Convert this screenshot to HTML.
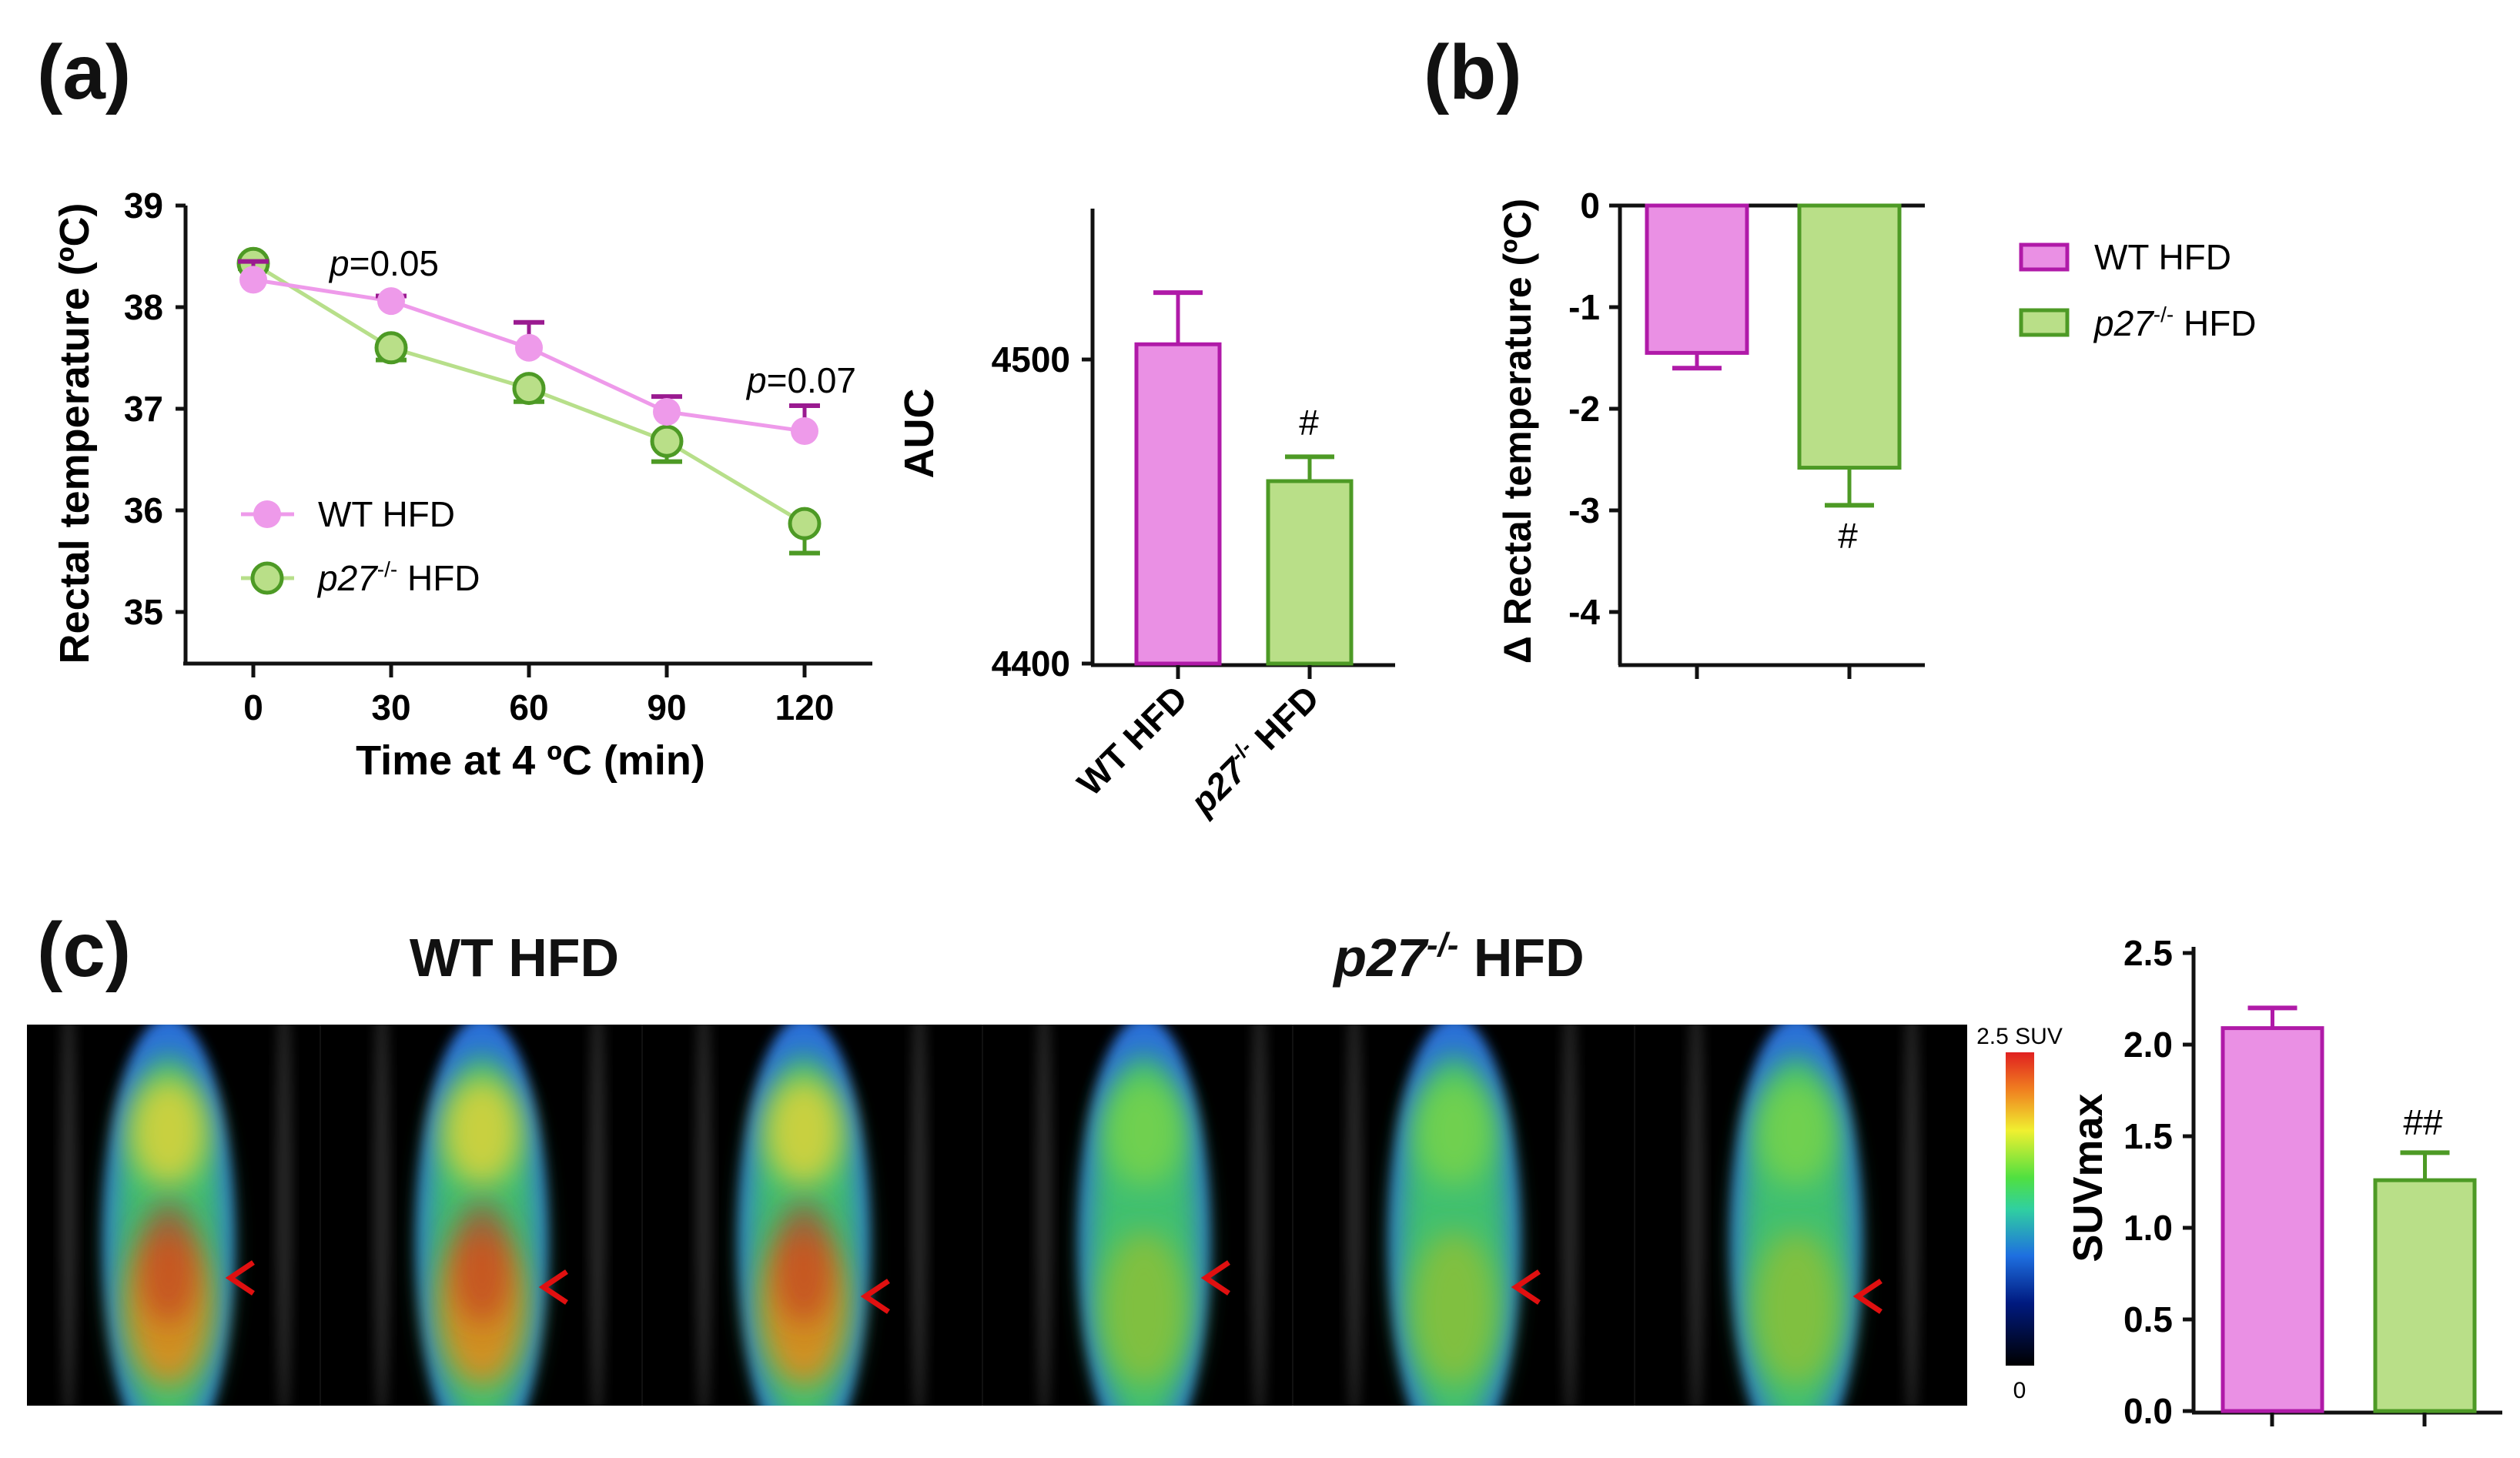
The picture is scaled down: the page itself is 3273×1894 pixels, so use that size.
<!DOCTYPE html>
<html><head><meta charset="utf-8"><style>
html,body{margin:0;padding:0;background:#fff;}
svg{display:block;font-family:"Liberation Sans",sans-serif;}
</style></head><body>
<svg id="fig" width="3273" height="1894" viewBox="0 0 3273 1894" xmlns="http://www.w3.org/2000/svg">
<defs>
<filter id="blur" x="-50%" y="-50%" width="200%" height="200%"><feGaussianBlur stdDeviation="18"/></filter>
<filter id="blur2" x="-50%" y="-50%" width="200%" height="200%"><feGaussianBlur stdDeviation="8"/></filter>
<clipPath id="imgclip"><rect x="35" y="1331" width="2520" height="495"/></clipPath>
<linearGradient id="cbar" x1="0" y1="1" x2="0" y2="0">
<stop offset="0" stop-color="#000"/><stop offset="0.2" stop-color="#001a80"/><stop offset="0.35" stop-color="#1e6fe0"/><stop offset="0.5" stop-color="#30d0a0"/><stop offset="0.6" stop-color="#50e040"/><stop offset="0.75" stop-color="#f0f030"/><stop offset="0.88" stop-color="#f08020"/><stop offset="1" stop-color="#e02020"/>
</linearGradient>
</defs>
<g font-weight="bold" fill="#111">
<text x="48" y="128" font-size="100">(a)</text>
<text x="1849" y="128" font-size="100">(b)</text>
<text x="48" y="1268" font-size="100">(c)</text>
<text x="668" y="1268" font-size="70" text-anchor="middle">WT HFD</text>
<text x="1895" y="1268" font-size="70" text-anchor="middle"><tspan font-style="italic">p27</tspan><tspan font-size="44" dy="-26" font-style="italic">-/-</tspan><tspan dy="26"> HFD</tspan></text>
</g>
<g id="lineChart"></g>
<g id="aucChart"></g>
<g id="deltaChart"></g>
<g id="images"></g>
<g id="suvChart"></g>
</svg>
<script>
const times=[0,30,60,90,120];
const wtTemp=[38.27,38.06,37.6,36.97,36.78];
const wtErr=[0.18,0.05,0.25,0.15,0.25];
const koTemp=[38.43,37.6,37.2,36.68,35.87];
const koErr=[0.05,0.12,0.13,0.2,0.29];
const tempTicks=[35,36,37,38,39];
const aucGroups=["WT HFD","p27 HFD"];
const aucValues=[4505,4460];
const aucErr=[17,8];
const aucTicks=[4400,4500];
const deltaValues=[-1.45,-2.58];
const deltaErr=[0.15,0.37];
const deltaTicks=[0,-1,-2,-3,-4];
const suvValues=[2.09,1.26];
const suvErr=[0.11,0.15];
const suvTicks=[0.0,0.5,1.0,1.5,2.0,2.5];
const heat=[0.85,0.9,0.92,0.45,0.45,0.5];

const NS="http://www.w3.org/2000/svg";
function mk(p,tag,a,txt){const e=document.createElementNS(NS,tag);for(const k in a)e.setAttribute(k,a[k]);if(txt!==undefined)e.textContent=txt;p.appendChild(e);return e;}
const PINK="#ea90e4",PINKD="#b01aa8",GREEN="#b9df88",GREEND="#4d9a25",LPINK="#ee9aea",LGREEN="#b7df8a";

// line chart
(function(){
const g=document.getElementById('lineChart');
const X=t=>329+(t-0)*(1045-329)/120, Y=v=>795-(v-35)*132;
mk(g,'line',{x1:241,y1:267,x2:241,y2:862,stroke:'#111','stroke-width':5});
mk(g,'line',{x1:238,y1:862,x2:1133,y2:862,stroke:'#111','stroke-width':5});
tempTicks.forEach(v=>{mk(g,'line',{x1:228,y1:Y(v),x2:241,y2:Y(v),stroke:'#111','stroke-width':5});
const t=mk(g,'text',{x:212,y:Y(v)+16,'font-size':46,'font-weight':'bold','text-anchor':'end'},v);});
times.forEach(v=>{mk(g,'line',{x1:X(v),y1:862,x2:X(v),y2:880,stroke:'#111','stroke-width':5});
const t=mk(g,'text',{x:X(v),y:935,'font-size':46,'font-weight':'bold','text-anchor':'middle'},v);});
const yl=mk(g,'text',{x:0,y:0,'font-size':54,'font-weight':'bold','text-anchor':'middle',transform:'translate(115,563) rotate(-90)'},'Rectal temperature (ºC)');

const xl=mk(g,'text',{x:689,y:1006,'font-size':54,'font-weight':'bold','text-anchor':'middle'},'Time at 4 ºC (min)');

mk(g,'polyline',{points:times.map((t,i)=>X(t)+','+Y(koTemp[i])).join(' '),fill:'none',stroke:LGREEN,'stroke-width':5});
mk(g,'polyline',{points:times.map((t,i)=>X(t)+','+Y(wtTemp[i])).join(' '),fill:'none',stroke:LPINK,'stroke-width':5});
times.forEach((t,i)=>{const y=Y(koTemp[i]),ye=Y(koTemp[i]-koErr[i]);
mk(g,'line',{x1:X(t),y1:y,x2:X(t),y2:ye,stroke:GREEND,'stroke-width':5});
mk(g,'line',{x1:X(t)-20,y1:ye,x2:X(t)+20,y2:ye,stroke:GREEND,'stroke-width':6});
const c=mk(g,'circle',{cx:X(t),cy:y,r:19,fill:GREEN,stroke:GREEND,'stroke-width':5});
});
times.forEach((t,i)=>{const y=Y(wtTemp[i]),ye=Y(wtTemp[i]+wtErr[i]);
mk(g,'line',{x1:X(t),y1:y,x2:X(t),y2:ye,stroke:'#9a1a90','stroke-width':5});
mk(g,'line',{x1:X(t)-20,y1:ye,x2:X(t)+20,y2:ye,stroke:'#9a1a90','stroke-width':6});
const c=mk(g,'circle',{cx:X(t),cy:y,r:18,fill:LPINK});
});
mk(g,'text',{x:428,y:358,'font-size':46},'').innerHTML='<tspan font-style="italic">p</tspan>=0.05';
mk(g,'text',{x:970,y:510,'font-size':46},'').innerHTML='<tspan font-style="italic">p</tspan>=0.07';
mk(g,'line',{x1:313,y1:668,x2:382,y2:668,stroke:LPINK,'stroke-width':5});
mk(g,'circle',{cx:347,cy:668,r:18,fill:LPINK});
mk(g,'text',{x:413,y:684,'font-size':46},'WT HFD');
mk(g,'line',{x1:313,y1:751,x2:382,y2:751,stroke:LGREEN,'stroke-width':5});
mk(g,'circle',{cx:347,cy:751,r:19,fill:GREEN,stroke:GREEND,'stroke-width':5});
mk(g,'text',{x:413,y:767,'font-size':46},'').innerHTML='<tspan font-style="italic">p27</tspan><tspan font-size="28" dy="-18">-/-</tspan><tspan dy="18"> HFD</tspan>';
})();

function bars(g,Y,vals,errs,xs,w,base){
vals.forEach((v,i)=>{const c=i==0?[PINK,PINKD]:[GREEN,GREEND];
const y0=Math.min(Y(v),Y(base)),h=Math.abs(Y(v)-Y(base));
const r=mk(g,'rect',{x:xs[i],y:y0,width:w,height:h,fill:c[0],stroke:c[1],'stroke-width':5});

const dir=v>=base?1:-1,ye=Y(v+dir*errs[i]),cx=xs[i]+w/2;
mk(g,'line',{x1:cx,y1:Y(v),x2:cx,y2:ye,stroke:c[1],'stroke-width':5});
mk(g,'line',{x1:cx-32,y1:ye,x2:cx+32,y2:ye,stroke:c[1],'stroke-width':6});});
}
(function(){
const g=document.getElementById('aucChart');
const Y=v=>862-(v-4400)*3.95;
mk(g,'line',{x1:1419,y1:271,x2:1419,y2:864,stroke:'#111','stroke-width':5});
mk(g,'line',{x1:1417,y1:864,x2:1812,y2:864,stroke:'#111','stroke-width':5});
aucTicks.forEach(v=>{mk(g,'line',{x1:1405,y1:Y(v),x2:1419,y2:Y(v),stroke:'#111','stroke-width':5});
mk(g,'text',{x:1390,y:Y(v)+16,'font-size':46,'font-weight':'bold','text-anchor':'end'},v);});
bars(g,Y,aucValues,aucErr,[1476,1647],108,4400);
[1530,1701].forEach(x=>mk(g,'line',{x1:x,y1:864,x2:x,y2:882,stroke:'#111','stroke-width':5}));
mk(g,'text',{x:0,y:0,'font-size':46,'font-weight':'bold','text-anchor':'end',transform:'translate(1545,910) rotate(-45)'},'WT HFD');
mk(g,'text',{x:0,y:0,'font-size':46,'font-weight':'bold','text-anchor':'end',transform:'translate(1716,910) rotate(-45)'},'').innerHTML='<tspan font-style="italic">p27</tspan><tspan font-size="28" dy="-18">-/-</tspan><tspan dy="18"> HFD</tspan>';
mk(g,'text',{x:0,y:0,'font-size':54,'font-weight':'bold','text-anchor':'middle',transform:'translate(1212,563) rotate(-90)'},'AUC');
mk(g,'text',{x:1700,y:565,'font-size':46,'text-anchor':'middle'},'#');
})();
(function(){
const g=document.getElementById('deltaChart');
const Y=v=>267-v*132;
mk(g,'line',{x1:2104,y1:267,x2:2104,y2:864,stroke:'#111','stroke-width':5});
mk(g,'line',{x1:2102,y1:864,x2:2500,y2:864,stroke:'#111','stroke-width':5});
mk(g,'line',{x1:2104,y1:267,x2:2500,y2:267,stroke:'#111','stroke-width':5});
deltaTicks.forEach(v=>{mk(g,'line',{x1:2090,y1:Y(v),x2:2104,y2:Y(v),stroke:'#111','stroke-width':5});
mk(g,'text',{x:2078,y:Y(v)+16,'font-size':46,'font-weight':'bold','text-anchor':'end'},v);});
bars(g,Y,deltaValues,deltaErr,[2139,2337],130,0);
[2204,2402].forEach(x=>mk(g,'line',{x1:x,y1:864,x2:x,y2:882,stroke:'#111','stroke-width':5}));
mk(g,'text',{x:0,y:0,'font-size':50,'font-weight':'bold','text-anchor':'middle',transform:'translate(1988,560) rotate(-90)'},'Δ Rectal temperature (ºC)');
mk(g,'text',{x:2400,y:712,'font-size':46,'text-anchor':'middle'},'#');
mk(g,'rect',{x:2625,y:318,width:60,height:32,fill:PINK,stroke:PINKD,'stroke-width':5});
mk(g,'text',{x:2720,y:350,'font-size':46},'WT HFD');
mk(g,'rect',{x:2625,y:403,width:60,height:32,fill:GREEN,stroke:GREEND,'stroke-width':5});
mk(g,'text',{x:2720,y:436,'font-size':46},'').innerHTML='<tspan font-style="italic">p27</tspan><tspan font-size="28" dy="-18">-/-</tspan><tspan dy="18"> HFD</tspan>';
})();
(function(){
const root=document.getElementById('images');
mk(root,'rect',{x:35,y:1331,width:2520,height:495,fill:'#000'});
const g=mk(root,'g',{'clip-path':'url(#imgclip)'});
const cxs=[219,626,1044,1486,1889,2333];
heat.forEach((h,i)=>{const cx=cxs[i];
const s=mk(g,'g',{});
mk(s,'ellipse',{cx:cx-130,cy:1560,rx:10,ry:300,fill:'#555',opacity:0.5,filter:'url(#blur2)'});
mk(s,'ellipse',{cx:cx+150,cy:1560,rx:10,ry:300,fill:'#555',opacity:0.5,filter:'url(#blur2)'});
mk(s,'ellipse',{cx:cx,cy:1610,rx:85,ry:290,fill:'#2a6fd8',filter:'url(#blur2)'});
mk(s,'ellipse',{cx:cx,cy:1620,rx:72,ry:250,fill:'#40c070',filter:'url(#blur)'});
mk(s,'ellipse',{cx:cx,cy:1470,rx:50,ry:70,fill:h>0.6?'#c8d040':'#70d050',filter:'url(#blur)'});
mk(s,'ellipse',{cx:cx,cy:1700,rx:55,ry:100,fill:h>0.6?'#d09020':'#80c040',filter:'url(#blur)'});
if(h>0.6)mk(s,'ellipse',{cx:cx,cy:1640,rx:40,ry:80,fill:'#c03020',opacity:0.6,filter:'url(#blur)'});
mk(s,'path',{d:`M${cx+110},${1660-20+i%3*12} l-30,20 l30,20`,fill:'none',stroke:'#e01010','stroke-width':7});
if(i>0)mk(g,'line',{x1:cx-210,y1:1331,x2:cx-210,y2:1826,stroke:'#111','stroke-width':2});});
mk(root,'rect',{x:2605,y:1367,width:37,height:407,fill:'url(#cbar)'});
mk(root,'text',{x:2623,y:1356,'font-size':30,'text-anchor':'middle'},'2.5 SUV');
mk(root,'text',{x:2623,y:1816,'font-size':30,'text-anchor':'middle'},'0');
})();
(function(){
const g=document.getElementById('suvChart');
const Y=v=>1833-v*238;
mk(g,'line',{x1:2849,y1:1230,x2:2849,y2:1835,stroke:'#111','stroke-width':5});
mk(g,'line',{x1:2847,y1:1835,x2:3250,y2:1835,stroke:'#111','stroke-width':5});
suvTicks.forEach(v=>{mk(g,'line',{x1:2835,y1:Y(v),x2:2849,y2:Y(v),stroke:'#111','stroke-width':5});
mk(g,'text',{x:2822,y:Y(v)+16,'font-size':46,'font-weight':'bold','text-anchor':'end'},v.toFixed(1));});
bars(g,Y,suvValues,suvErr,[2887,3085],129,0);
[2951,3149].forEach(x=>mk(g,'line',{x1:x,y1:1835,x2:x,y2:1853,stroke:'#111','stroke-width':5}));
mk(g,'text',{x:0,y:0,'font-size':54,'font-weight':'bold','text-anchor':'middle',transform:'translate(2730,1530) rotate(-90)'},'SUVmax');
mk(g,'text',{x:3147,y:1474,'font-size':46,'text-anchor':'middle'},'##');
})();
</script>
</body></html>
